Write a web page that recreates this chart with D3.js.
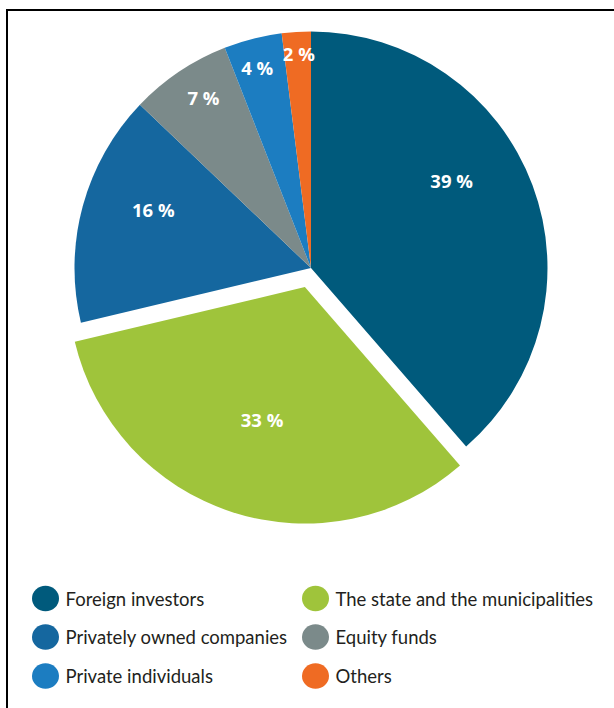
<!DOCTYPE html>
<html>
<head>
<meta charset="utf-8">
<script src="https://cdn.jsdelivr.net/npm/d3@7"></script>
<style>
  body { margin: 0; background: #fff; }
  svg { display: block; }
  .lbl { font-family: "Open Sans", sans-serif; font-weight: 700; fill: #fff; }
  .leg { font-family: Lato, "Open Sans", sans-serif; fill: #231f20; }
</style>
</head>
<body>
<div id="chart"></div>
<script>
// ownership shares (%)
var categories = ["Foreign investors", "The state and the municipalities", "Privately owned companies",
    "Equity funds", "Private individuals", "Others"];
var shares = [39, 33, 16, 7, 4, 2];
var colors = ["#005a7c", "#9fc43b", "#15679f", "#7b8a8a", "#1c7dc1", "#ef6b23"];

var width = 614, height = 708;
var cx = 311, cy = 268, radius = 236.5;
var explode = 20; // pull-out of the state slice

var svg = d3.select("#chart").append("svg")
    .attr("width", width)
    .attr("height", height);

// frame, only left and top edges are visible
svg.append("path")
    .attr("d", "M7,720 L7,10 L620,10")
    .attr("fill", "none")
    .attr("stroke", "#000")
    .attr("stroke-width", 2);

var pie = d3.pie().sort(null).value(function (d) { return d; });
var arc = d3.arc().innerRadius(0).outerRadius(radius);
var arcs = pie(shares);

//label placement tweaks (radius, angle shift in degrees)
var labelR = [165, 140, 168, 201, 207, 214];
var labelShift = [-11, 0, 5, 1.5, -0.8, 0.3];

var g = svg.append("g").attr("transform", "translate(" + cx + "," + cy + ")");

var slices = g.selectAll(".slice")
    .data(arcs)
    .enter()
    .append("g")
    .attr("class", "slice")
    .attr("transform", function (d, i) {
        if (i != 1) return null;
        var a = (d.startAngle + d.endAngle) / 2;
        return "translate(" + (Math.sin(a) * explode) + "," + (-Math.cos(a) * explode) + ")";
    });

slices.append("path")
    .attr("d", arc)
    .attr("fill", function (d, i) { return colors[i]; });

slices.append("text")
    .attr("class", "lbl")
    .attr("text-anchor", "middle")
    .attr("dy", "0.36em")
    .style("font-size", "18.5px")
    .attr("x", function (d, i) {
        var a = (d.startAngle + d.endAngle) / 2 + labelShift[i] * Math.PI / 180;
        return Math.sin(a) * labelR[i];
    })
    .attr("y", function (d, i) {
        var a = (d.startAngle + d.endAngle) / 2 + labelShift[i] * Math.PI / 180;
        return -Math.cos(a) * labelR[i];
    })
    .text(function (d) { return d.data + " %"; });

// legend, two columns filled row by row
var legX = [45.5, 315.5], legY = [598.5, 637, 676];
var leg = svg.selectAll(".legItem")
    .data(categories)
    .enter()
    .append("g")
    .attr("class", "legItem")
    .attr("transform", function (d, i) {
        return "translate(" + legX[i % 2] + "," + legY[Math.floor(i / 2)] + ")";
    });

leg.append("ellipse")
    .attr("rx", 13.5)
    .attr("ry", 12.8)
    .attr("fill", function (d, i) { return colors[i]; });

leg.append("text")
    .attr("class", "leg")
    .attr("x", 20)
    .attr("dy", "0.4em")
    .style("font-size", "18.5px")
    .text(function (d) { return d; });
</script>
</body>
</html>
